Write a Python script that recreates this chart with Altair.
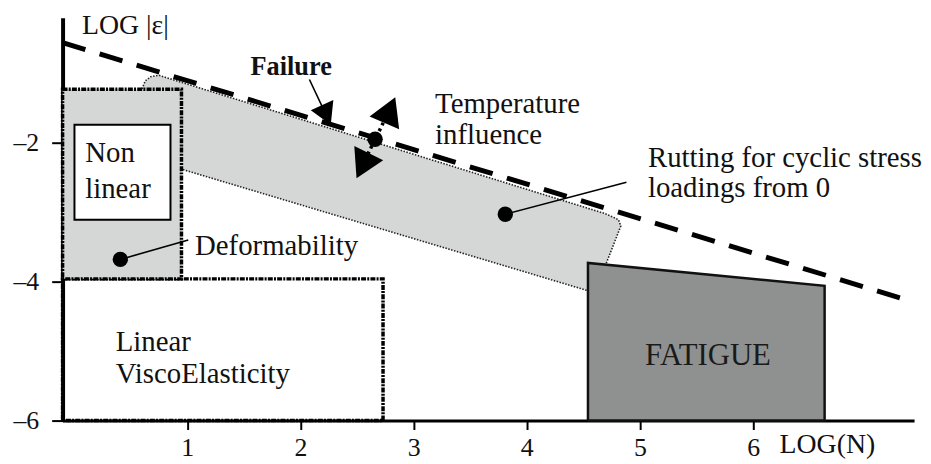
import altair as alt
import pandas as pd

# ---- axes -------------------------------------------------------------
x_domain = [-0.10, 7.42]
y_domain = [-6.0, -0.20]
x_ticks = [1, 2, 3, 4, 5, 6]
y_ticks = [-6, -4, -2]

# ---- failure line (dashed) -------------------------------------------
fail_x = [-0.10, 7.41]
fail_y = [-0.56, -4.29]

# ---- rutting band (rounded parallelogram) -----------------------------
band_x = [0.60, 0.60, 0.63, 0.68, 0.75, 0.81, 4.69, 4.76, 4.81, 4.83, 4.60, 0.60]
band_y = [-2.21, -1.23, -1.11, -1.05, -1.03, -1.06, -3.02, -3.07, -3.11, -3.20, -4.16, -2.21]

# ---- fatigue polygon --------------------------------------------------
fat_x = [4.54, 4.54, 6.63, 6.63, 4.54]
fat_y = [-6.00, -3.73, -4.06, -6.00, -6.00]

# ---- rectangular domains ---------------------------------------------
nl_box = {"x": [-0.10], "x2": [0.95], "y": [-3.96], "y2": [-1.23]}
lve_box = {"x": [-0.10], "x2": [2.73], "y": [-6.00], "y2": [-3.96]}
inner_box = {"x": [0.005], "x2": [0.853], "y": [-3.11], "y2": [-1.74]}

# ---- points, leader lines, arrow heads --------------------------------
dot_x = [0.41, 2.66, 3.81]
dot_y = [-3.68, -1.95, -3.03]

lead_x = [0.41, 3.81, 2.08]
lead_y = [-3.68, -3.03, -1.09]
lead_x2 = [1.01, 4.88, 2.23]
lead_y2 = [-3.40, -2.57, -1.61]

temp_x = [2.57]
temp_y = [-2.25]
temp_x2 = [2.76]
temp_y2 = [-1.62]

head_x = [2.23, 2.79, 2.55]
head_y = [-1.60, -1.53, -2.33]
head_angle = [156, 23, 206]
head_size = [620, 1050, 1050]

# ---- texts ------------------------------------------------------------
label_text = ["Temperature", "influence", "Rutting for cyclic stress",
              "loadings from 0", "Deformability", "Linear", "ViscoElasticity",
              "Non", "linear"]
label_x = [3.19, 3.19, 5.07, 5.07, 1.07, 0.37, 0.37, 0.10, 0.10]
label_y = [-1.57, -2.02, -2.35, -2.78, -3.61, -5.00, -5.46, -2.28, -2.80]

bold_text = ["Failure"]
bold_x = [1.56]
bold_y = [-1.02]

fatigue_text = ["FATIGUE"]
fatigue_x = [5.60]
fatigue_y = [-5.20]

FONT = "Liberation Serif"
INK = "#111111"

xs = alt.Scale(domain=x_domain, nice=False, zero=False)
ys = alt.Scale(domain=y_domain, nice=False, zero=False)

x_axis = alt.Axis(
    values=x_ticks, title="LOG(N)", grid=False,
    domainColor="black", domainWidth=3, tickColor="black", tickWidth=2,
    tickSize=9, labelFont=FONT, labelFontSize=26, labelColor=INK,
    labelPadding=5, labelFlush=False,
    titleFont=FONT, titleFontSize=28, titleFontWeight="normal", titleColor=INK,
    titleX=722, titleY=32, titleAlign="left", titleBaseline="alphabetic",
)
y_axis = alt.Axis(
    values=y_ticks, title="LOG |ε|", grid=False,
    domainColor="black", domainWidth=4, tickColor="black", tickWidth=2,
    tickSize=11, labelFont=FONT, labelFontSize=26, labelColor=INK,
    labelPadding=13, labelFlush=False,
    labelExpr="datum.value < 0 ? '\u2013' + abs(datum.value) : datum.label",
    titleFont=FONT, titleFontSize=28, titleFontWeight="normal", titleColor=INK,
    titleX=19, titleY=16, titleAngle=0, titleAlign="left",
    titleBaseline="alphabetic",
)


def X(f):
    return alt.X(f, type="quantitative", scale=xs, axis=x_axis)


def Y(f):
    return alt.Y(f, type="quantitative", scale=ys, axis=y_axis)


band_df = pd.DataFrame({"x": band_x, "y": band_y, "i": list(range(len(band_x)))})
band = alt.Chart(band_df).mark_line(
    fill="#d5d7d7", stroke="#222222", strokeWidth=1.6, strokeDash=[1.5, 1.5]
).encode(x=X("x"), y=Y("y"), order=alt.Order("i:Q"))

lve = alt.Chart(pd.DataFrame(lve_box)).mark_rect(
    fill="white", fillOpacity=0, stroke="black", strokeWidth=3.5,
    strokeDash=[5, 1.2, 2, 1.2]
).encode(x=X("x"), x2="x2", y=Y("y"), y2="y2")

nl = alt.Chart(pd.DataFrame(nl_box)).mark_rect(
    fill="#d5d7d7", stroke="black", strokeWidth=3.5, strokeDash=[5, 1.2, 2, 1.2]
).encode(x=X("x"), x2="x2", y=Y("y"), y2="y2")

inner = alt.Chart(pd.DataFrame(inner_box)).mark_rect(
    fill="white", stroke="black", strokeWidth=2
).encode(x=X("x"), x2="x2", y=Y("y"), y2="y2")

fat_df = pd.DataFrame({"x": fat_x, "y": fat_y, "i": list(range(len(fat_x)))})
fatigue = alt.Chart(fat_df).mark_line(
    fill="#8f9191", stroke="#111111", strokeWidth=2.5
).encode(x=X("x"), y=Y("y"), order=alt.Order("i:Q"))

fail_df = pd.DataFrame({"x": fail_x, "y": fail_y})
failure = alt.Chart(fail_df).mark_line(
    color="black", strokeWidth=5, strokeDash=[24, 15], strokeCap="butt"
).encode(x=X("x"), y=Y("y"))

lead_df = pd.DataFrame({"x": lead_x, "y": lead_y, "x2": lead_x2, "y2": lead_y2})
leaders = alt.Chart(lead_df).mark_rule(color="black", strokeWidth=1.6).encode(
    x=X("x"), y=Y("y"), x2="x2", y2="y2")

temp_df = pd.DataFrame({"x": temp_x, "y": temp_y, "x2": temp_x2, "y2": temp_y2})
temp = alt.Chart(temp_df).mark_rule(
    color="black", strokeWidth=3.5, strokeDash=[3, 3.5]
).encode(x=X("x"), y=Y("y"), x2="x2", y2="y2")

head_df = pd.DataFrame({"x": head_x, "y": head_y, "a": head_angle, "s": head_size})
heads = alt.Chart(head_df).mark_point(
    shape="triangle-up", filled=True, color="black", opacity=1
).encode(x=X("x"), y=Y("y"), angle=alt.Angle("a:Q", scale=None),
         size=alt.Size("s:Q", scale=None, legend=None))

dot_df = pd.DataFrame({"x": dot_x, "y": dot_y})
dots = alt.Chart(dot_df).mark_circle(size=240, color="black", opacity=1).encode(
    x=X("x"), y=Y("y"))

lab_df = pd.DataFrame({"x": label_x, "y": label_y, "t": label_text})
labels = alt.Chart(lab_df).mark_text(
    align="left", baseline="alphabetic", font=FONT, fontSize=29, color=INK
).encode(x=X("x"), y=Y("y"), text="t:N")

bold_df = pd.DataFrame({"x": bold_x, "y": bold_y, "t": bold_text})
bold = alt.Chart(bold_df).mark_text(
    align="left", baseline="alphabetic", font=FONT, fontSize=26.5,
    fontWeight="bold", color=INK
).encode(x=X("x"), y=Y("y"), text="t:N")

fat_lab_df = pd.DataFrame({"x": fatigue_x, "y": fatigue_y, "t": fatigue_text})
fat_lab = alt.Chart(fat_lab_df).mark_text(
    align="center", baseline="alphabetic", font=FONT, fontSize=31, color="#1a1a1a"
).encode(x=X("x"), y=Y("y"), text="t:N")

chart = alt.layer(
    band, lve, nl, inner, fatigue, failure, leaders, temp, heads, dots,
    labels, bold, fat_lab
).properties(
    width=858, height=406,
    autosize=alt.AutoSizeParams(type="none"),
    padding={"left": 55, "top": 8, "right": 9, "bottom": 41},
    background="white",
).configure_view(stroke=None)

chart.save("out.html", embed_options={"renderer": "svg", "actions": False})
